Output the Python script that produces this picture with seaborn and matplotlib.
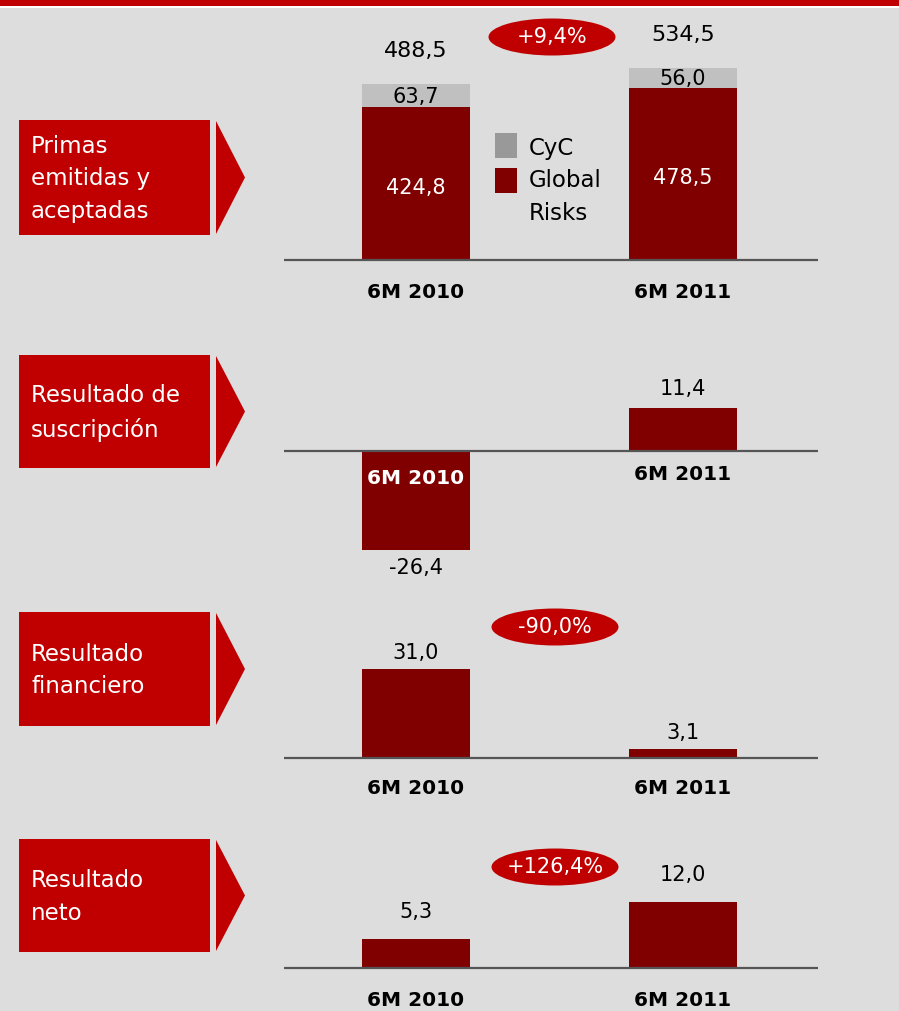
import matplotlib
matplotlib.use("Agg")
import matplotlib.pyplot as plt
from matplotlib.patches import Rectangle, Polygon, Ellipse
import seaborn as sns

# ---- data -------------------------------------------------------------
periods = ["6M 2010", "6M 2011"]
primas_global_risks = [424.8, 478.5]
primas_cyc = [63.7, 56.0]
resultado_suscripcion = [-26.4, 11.4]
resultado_financiero = [31.0, 3.1]
resultado_neto = [5.3, 12.0]

panel_titles = ["Primas\nemitidas y\naceptadas", "Resultado de\nsuscripción",
                "Resultado\nfinanciero", "Resultado\nneto"]
change_labels = ["+9,4%", None, "-90,0%", "+126,4%"]
legend_labels = ["CyC", "Global\nRisks"]

# ---- style ------------------------------------------------------------
BG = "#DDDDDD"
RED = "#C00000"
DARK = "#800000"
GREY = "#C0C0C0"
GREY_KEY = "#999999"
W, H = 899, 1011

sns.set_theme(style="white")
plt.rcParams["font.family"] = ["DejaVu Sans"]
plt.rcParams["text.color"] = "black"

fig = plt.figure(figsize=(W / 100, H / 100), dpi=100, facecolor=BG)


def fx(x):
    return x / W


def fy(y):
    return 1 - y / H


def fmt(v):
    return f"{v:.1f}".replace(".", ",")


def fig_rect(x0, y0, x1, y1, color):
    fig.add_artist(Rectangle((fx(x0), fy(y1)), fx(x1 - x0), (y1 - y0) / H,
                             transform=fig.transFigure, color=color, lw=0))


# top band
fig_rect(0, 0, W, 6, RED)
fig_rect(0, 6, W, 7.5, "white")

# centres of the two bar slots (px) and width of each bar
X_AX0, X_AX1 = 284, 818
SLOT0, SLOT1 = 416, 683
BAR_PX = 108
unit = SLOT1 - SLOT0


def make_axes(ytop, ybot, base, scale):
    ax = fig.add_axes([fx(X_AX0), fy(ybot), fx(X_AX1 - X_AX0), (ybot - ytop) / H])
    ax.set_facecolor("none")
    ax.set_xlim((X_AX0 - SLOT0) / unit, (X_AX1 - SLOT0) / unit)
    ax.set_ylim(-(ybot - base) / scale, (base - ytop) / scale)
    for s in ax.spines.values():
        s.set_visible(False)
    ax.set_xticks([])
    ax.set_yticks([])
    return ax


def bars(ax, values, color):
    sns.barplot(x=periods, y=values, ax=ax, color=color, saturation=1,
                width=BAR_PX / unit, errorbar=None, linewidth=0)
    ax.set_xlim((X_AX0 - SLOT0) / unit, (X_AX1 - SLOT0) / unit)
    ax.set_xticks([])
    ax.set_xlabel("")
    ax.set_ylabel("")


def label(ax, i, y, text, dy, size=15, color="black", weight="normal"):
    ax.annotate(text, xy=(i, y), xytext=(0, dy), textcoords="offset pixels",
                ha="center", va="center", fontsize=size, color=color,
                fontweight=weight)


def baseline(ax):
    ax.axhline(0, color="#555555", lw=1.6, zorder=5)


def side_box(y0, y1, text):
    fig_rect(19, y0, 210, y1, RED)
    yc = (y0 + y1) / 2
    fig.add_artist(Polygon([(fx(216), fy(y0 + 1)), (fx(245), fy(yc)),
                            (fx(216), fy(y1 - 1))], closed=True,
                           transform=fig.transFigure, color=RED, lw=0))
    fig.text(fx(31), fy(yc + 1.5), text, color="white", fontsize=16.5,
             ha="left", va="center", linespacing=1.53)


def badge(xc, yc, text):
    fig.add_artist(Ellipse((fx(xc), fy(yc)), 127 / W, 37 / H,
                           transform=fig.transFigure, color=RED, lw=0))
    fig.text(fx(xc), fy(yc), text, color="white", fontsize=15,
             ha="center", va="center")


# ---- panel 1: primas (stacked) ---------------------------------------
ax1 = make_axes(10, 300, 260, 0.36)
totals = [g + c for g, c in zip(primas_global_risks, primas_cyc)]
bars(ax1, totals, GREY)
bars(ax1, primas_global_risks, DARK)
baseline(ax1)
for i in range(2):
    label(ax1, i, totals[i], fmt(totals[i]), 33, size=16)
    label(ax1, i, primas_global_risks[i] + primas_cyc[i] / 2, fmt(primas_cyc[i]), -1)
    label(ax1, i, primas_global_risks[i] / 2, fmt(primas_global_risks[i]), -4,
          color="white")
    label(ax1, i, 0, periods[i], -32, size=14.5, weight="bold")
side_box(120, 235, panel_titles[0])
badge(552, 37, change_labels[0])

# legend
fig_rect(495, 133, 517, 158, GREY_KEY)
fig_rect(495, 168, 517, 193, DARK)
fig.text(fx(529), fy(148), legend_labels[0], fontsize=16.5, va="center",
         ha="left", color="black")
fig.text(fx(529), fy(197), legend_labels[1], fontsize=16.5, va="center",
         ha="left", linespacing=1.55, color="black")

# ---- panel 2: resultado de suscripcion --------------------------------
ax2 = make_axes(360, 590, 451, 3.76)
bars(ax2, resultado_suscripcion, DARK)
baseline(ax2)
for i, v in enumerate(resultado_suscripcion):
    label(ax2, i, v, fmt(v), 19 if v >= 0 else -18)
label(ax2, 0, 0, periods[0], -27, size=14.5, color="white", weight="bold")
label(ax2, 1, 0, periods[1], -23, size=14.5, weight="bold")
side_box(355, 468, panel_titles[1])

# ---- panel 3: resultado financiero ------------------------------------
ax3 = make_axes(600, 800, 758, 2.87)
bars(ax3, resultado_financiero, DARK)
baseline(ax3)
for i, v in enumerate(resultado_financiero):
    label(ax3, i, v, fmt(v), 16)
    label(ax3, i, 0, periods[i], -31, size=14.5, weight="bold")
side_box(612, 726, panel_titles[2])
badge(555, 627, change_labels[2])

# ---- panel 4: resultado neto ------------------------------------------
ax4 = make_axes(830, 1011, 968, 5.5)
bars(ax4, resultado_neto, DARK)
baseline(ax4)
for i, v in enumerate(resultado_neto):
    label(ax4, i, v, fmt(v), 27)
    label(ax4, i, 0, periods[i], -32, size=14.5, weight="bold")
side_box(839, 952, panel_titles[3])
badge(555, 867, change_labels[3])

fig.savefig("out.png", dpi=100, facecolor=BG)
